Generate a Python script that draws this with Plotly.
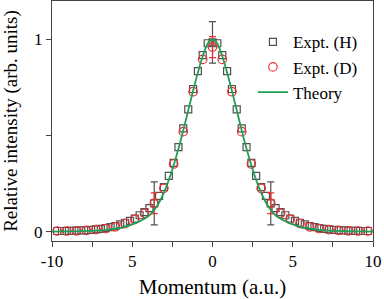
import plotly.graph_objects as go

# ---- data ----
x_H = [-9.68, -9.38, -9.08, -8.77, -8.47, -8.17, -7.87, -7.56, -7.26, -6.96,
       -6.66, -6.35, -6.05, -5.75, -5.45, -5.14, -4.84, -4.54, -4.24, -3.93,
       -3.63, -3.33, -3.03, -2.72, -2.42, -2.12, -1.82, -1.51, -1.21, -0.91,
       -0.61, -0.30, 0.00, 0.30, 0.61, 0.91, 1.21, 1.51, 1.82, 2.12,
       2.42, 2.72, 3.03, 3.33, 3.63, 3.93, 4.24, 4.54, 4.84, 5.14,
       5.45, 5.75, 6.05, 6.35, 6.66, 6.96, 7.26, 7.56, 7.87, 8.17,
       8.47, 8.77, 9.08, 9.38, 9.68]
y_H = [0.003, 0.003, 0.004, 0.004, 0.005, 0.006, 0.007, 0.009, 0.011, 0.014,
       0.018, 0.023, 0.029, 0.037, 0.046, 0.056, 0.068, 0.085, 0.101, 0.122,
       0.147, 0.186, 0.232, 0.290, 0.358, 0.440, 0.537, 0.636, 0.742, 0.835,
       0.918, 0.980, 0.985, 0.980, 0.918, 0.835, 0.742, 0.636, 0.537, 0.440,
       0.358, 0.290, 0.232, 0.186, 0.147, 0.122, 0.101, 0.085, 0.068, 0.056,
       0.046, 0.037, 0.029, 0.023, 0.018, 0.014, 0.011, 0.009, 0.007, 0.006,
       0.005, 0.004, 0.004, 0.003, 0.003]

x_D = [-9.68, -9.08, -8.47, -7.87, -7.26, -6.66, -6.05, -5.45, -4.84, -4.24,
       -3.63, -3.03, -2.42, -1.82, -1.21, -0.61, 0.00, 0.61, 1.21, 1.82,
       2.42, 3.03, 3.63, 4.24, 4.84, 5.45, 6.05, 6.66, 7.26, 7.87,
       8.47, 9.08, 9.68]
y_D = [0.003, 0.003, 0.004, 0.006, 0.010, 0.016, 0.025, 0.042, 0.064, 0.095,
       0.147, 0.225, 0.352, 0.520, 0.728, 0.896, 0.960, 0.896, 0.728, 0.520,
       0.352, 0.225, 0.147, 0.095, 0.064, 0.042, 0.025, 0.016, 0.010, 0.006,
       0.004, 0.003, 0.003]

# error bars (indices into the series above and their half-widths)
err_idx_H = [20, 32, 44]
err_H = [0.112, 0.108, 0.112]
err_idx_D = [10, 16, 22]
err_D = [0.054, 0.055, 0.054]

x_T = [-10.0, -9.0, -8.0, -7.0, -6.5, -6.0, -5.5, -5.0, -4.5, -4.0,
       -3.75, -3.5, -3.25, -3.0, -2.75, -2.5, -2.25, -2.0, -1.75, -1.5,
       -1.25, -1.0, -0.75, -0.5, -0.25, 0.0, 0.25, 0.5, 0.75, 1.0,
       1.25, 1.5, 1.75, 2.0, 2.25, 2.5, 2.75, 3.0, 3.25, 3.5,
       3.75, 4.0, 4.5, 5.0, 5.5, 6.0, 6.5, 7.0, 8.0, 9.0, 10.0]
y_T = [0.000, 0.001, 0.002, 0.006, 0.010, 0.016, 0.025, 0.038, 0.055, 0.080,
       0.100, 0.128, 0.163, 0.208, 0.262, 0.323, 0.393, 0.468, 0.550, 0.635,
       0.720, 0.800, 0.875, 0.940, 0.985, 1.000, 0.985, 0.940, 0.875, 0.800,
       0.720, 0.635, 0.550, 0.468, 0.393, 0.323, 0.262, 0.208, 0.163, 0.128,
       0.100, 0.080, 0.055, 0.038, 0.025, 0.016, 0.010, 0.006, 0.002, 0.001, 0.000]

x_tickvals = [-10, -5, 0, 5, 10]
x_ticktext = ["-10", "5", "0", "5", "10"]
x_minor = [-7.5, -2.5, 2.5, 7.5]
y_tickvals = [0, 1]
y_ticktext = ["0", "1"]
y_minor = [0.5]

GRAY = "#505050"
RED = "#ee3030"
GREEN = "#1fa055"
FONT = "Liberation Serif"

fig = go.Figure()
fig.add_trace(go.Scatter(
    x=x_H, y=y_H, mode="markers", name="Expt. (H)", legendgroup="H",
    marker=dict(symbol="square-open", size=7, color=GRAY, line=dict(width=1.2, color=GRAY)),
))
fig.add_trace(go.Scatter(
    x=[x_H[i] for i in err_idx_H], y=[y_H[i] for i in err_idx_H],
    mode="markers", showlegend=False, legendgroup="H",
    marker=dict(size=1, opacity=0),
    error_y=dict(type="data", array=err_H, color=GRAY, thickness=1.2, width=3.5),
))
fig.add_trace(go.Scatter(
    x=x_D, y=y_D, mode="markers", name="Expt. (D)", legendgroup="D",
    marker=dict(symbol="circle-open", size=8.5, color=RED, line=dict(width=1.2, color=RED)),
))
fig.add_trace(go.Scatter(
    x=[x_D[i] for i in err_idx_D], y=[y_D[i] for i in err_idx_D],
    mode="markers", showlegend=False, legendgroup="D",
    marker=dict(size=1, opacity=0),
    error_y=dict(type="data", array=err_D, color=RED, thickness=1.2, width=3.5),
))
fig.add_trace(go.Scatter(
    x=x_T, y=y_T, mode="lines", name="Theory", legendgroup="T",
    line=dict(color=GREEN, width=1.8, shape="spline", smoothing=0.6),
))

axis_common = dict(
    showline=True, linecolor="#444444", linewidth=1, mirror=True,
    ticks="outside", ticklen=5, tickcolor="#444444", tickwidth=1,
    showgrid=False, zeroline=False, automargin=False,
    tickfont=dict(family=FONT, size=17, color="black"),
)

fig.update_layout(
    width=384, height=299,
    margin=dict(l=52, r=11, t=1, b=58),
    paper_bgcolor="white", plot_bgcolor="white",
    font=dict(family=FONT, color="black"),
    showlegend=True,
    legend=dict(
        x=0.626, y=0.903, xanchor="left", yanchor="top",
        bgcolor="rgba(0,0,0,0)", borderwidth=0,
        font=dict(family=FONT, size=17, color="black"),
        tracegroupgap=0,
    ),
    xaxis=dict(
        range=[-10, 10], tickmode="array", tickvals=x_tickvals, ticktext=x_ticktext,
        minor=dict(tickmode="array", tickvals=x_minor, ticks="outside", ticklen=5,
                   tickcolor="#444444", showgrid=False),
        title=dict(text="Momentum (a.u.)", font=dict(family=FONT, size=21, color="black"), standoff=8),
        **axis_common,
    ),
    yaxis=dict(
        range=[-0.049, 1.2], tickmode="array", tickvals=y_tickvals, ticktext=y_ticktext,
        minor=dict(tickmode="array", tickvals=y_minor, ticks="outside", ticklen=5,
                   tickcolor="#444444", showgrid=False),
        title=dict(text="Relative intensity (arb. units)", font=dict(family=FONT, size=19, color="black"), standoff=13),
        **axis_common,
    ),
)

fig.write_html(
    "out.html",
    config={"displayModeBar": False},
    post_script="document.body.style.margin='0px';document.body.style.overflow='hidden';",
)
